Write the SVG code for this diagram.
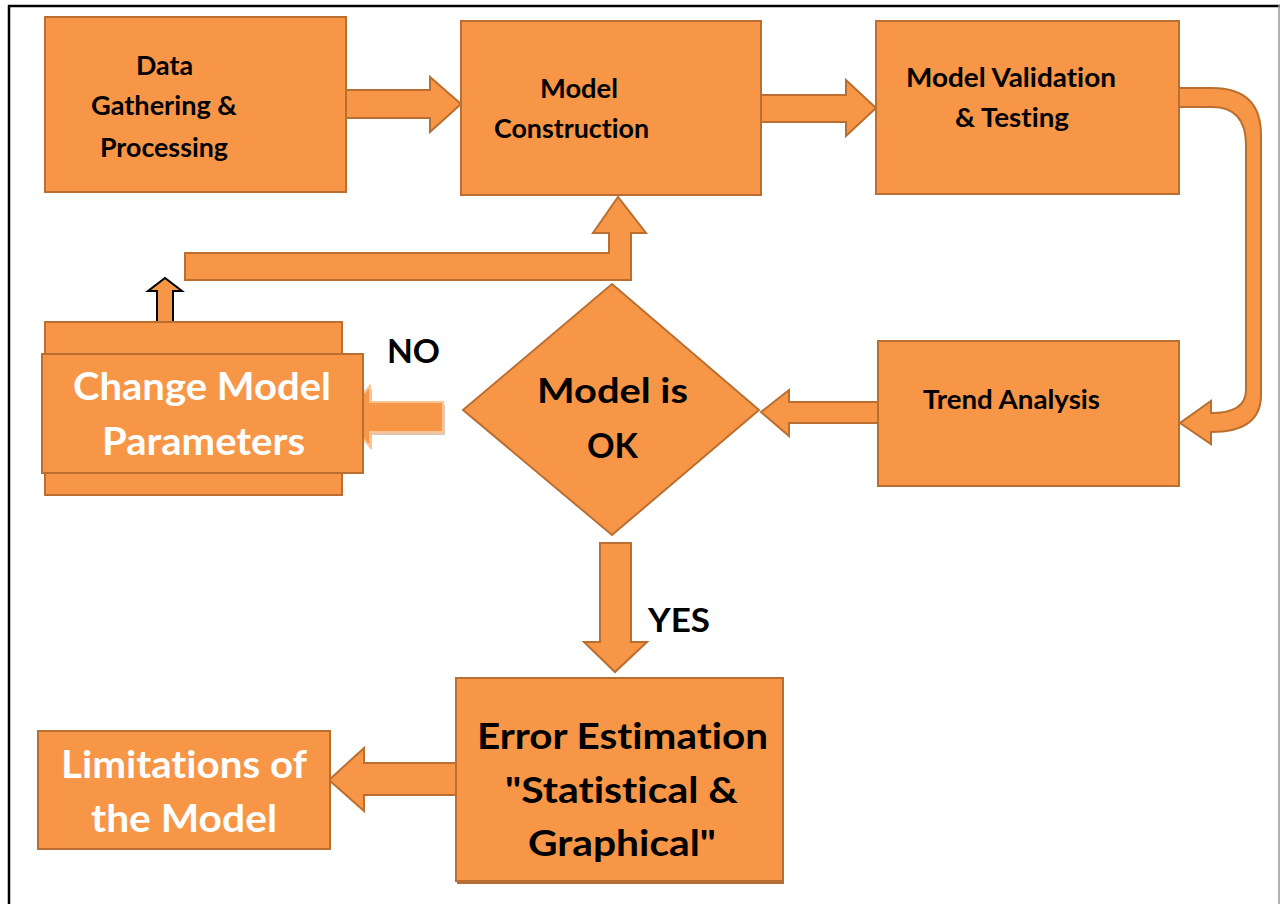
<svg xmlns="http://www.w3.org/2000/svg" width="1281" height="904" viewBox="0 0 1281 904">
<style>
.box{fill:#F79646;stroke:#BA6F30;stroke-width:2}
.arr{fill:#F79646;stroke:#BA6F30;stroke-width:2;stroke-linejoin:miter}
.t{font-family:Lato,"Liberation Sans",sans-serif;font-weight:700;fill:#000;font-variant-ligatures:none;font-feature-settings:"liga" 0}
.s{font-size:26px}
.w{fill:#fff}
</style>
<rect width="1281" height="904" fill="#fff"/>
<g id="frame">
<line x1="8" y1="6" x2="1280" y2="6" stroke="#000" stroke-width="2.5"/>
<line x1="9" y1="5" x2="9" y2="904" stroke="#000" stroke-width="2.5"/>
<line x1="1279" y1="5" x2="1279" y2="904" stroke="#999" stroke-width="1.5"/>
</g>
<g id="connectors">
<path class="arr" d="M346,90 L430,90 L430,77 L461,104 L430,132 L430,118 L346,118 Z"/>
<path class="arr" d="M761,95 L846,95 L846,80 L876,108 L846,136 L846,122 L761,122 Z"/>
<path class="arr" d="M1179,88 L1212,88 Q1261,88 1261,135 L1261,395 Q1261,432 1211,432 L1211,444 L1180,423 L1211,401 L1211,413 Q1246,413 1246,390 L1246,145 Q1246,107 1212,107 L1179,107 Z"/>
<path class="arr" d="M878,402 L789,402 L789,390 L761,412 L789,436 L789,423 L878,423 Z"/>
<path class="arr" d="M185,253 L609,253 L609,233 L593,233 L618,197 L646,233 L631,233 L631,280 L185,280 Z"/>
<path fill="#F79646" stroke="#000" stroke-width="2" d="M157,322 L157,291 L148,291 L165,278 L182,291 L173,291 L173,322 Z"/>
<path fill="#C8A07E" d="M445,405 L372,405 L372,389 L346,418 L372,450 L372,435 L445,435 Z" opacity="0.6"/>
<path fill="#F79646" stroke="#FBC593" stroke-width="2" d="M443,402 L370,402 L370,386 L344,415 L370,447 L370,432 L443,432 Z"/>
<path class="arr" d="M600,543 L631,543 L631,642 L647,642 L615,672 L584,642 L600,642 Z"/>
<path class="arr" d="M457,763 L364,763 L364,748 L329,780 L364,811 L364,795 L457,795 Z"/>
</g>
<g id="data-gathering">
<rect class="box" x="45" y="17" width="301" height="175"/>
<text class="t s" x="136" y="75" textLength="57" lengthAdjust="spacingAndGlyphs">Data</text>
<text class="t s" x="91" y="115" textLength="146" lengthAdjust="spacingAndGlyphs">Gathering &amp;</text>
<text class="t s" x="100" y="157" textLength="128" lengthAdjust="spacingAndGlyphs">Processing</text>
</g>
<g id="model-construction">
<rect class="box" x="461" y="21" width="300" height="174"/>
<text class="t s" x="540" y="98" textLength="78" lengthAdjust="spacingAndGlyphs">Model</text>
<text class="t s" x="494" y="138" textLength="155" lengthAdjust="spacingAndGlyphs">Construction</text>
</g>
<g id="model-validation">
<rect class="box" x="876" y="21" width="303" height="173"/>
<text class="t s" x="906" y="87" textLength="210" lengthAdjust="spacingAndGlyphs">Model Validation</text>
<text class="t s" x="955" y="127" textLength="114" lengthAdjust="spacingAndGlyphs">&amp; Testing</text>
</g>
<g id="trend-analysis">
<rect class="box" x="878" y="341" width="301" height="145"/>
<text class="t s" x="923" y="409" textLength="177" lengthAdjust="spacingAndGlyphs">Trend Analysis</text>
</g>
<g id="decision">
<polygon class="box" points="612,284 759,410 612,535 463,410"/>
<text class="t" x="537" y="403" font-size="35" textLength="151" lengthAdjust="spacingAndGlyphs">Model is</text>
<text class="t" x="587" y="458" font-size="35" textLength="51" lengthAdjust="spacingAndGlyphs">OK</text>
</g>
<g id="label-no">
<text class="t" x="387" y="363" font-size="33" textLength="53" lengthAdjust="spacingAndGlyphs">NO</text>
</g>
<g id="change-params">
<rect class="box" x="45" y="322" width="297" height="173"/>
<rect class="box" x="42" y="354" width="321" height="119"/>
<text class="t w" x="73" y="400" font-size="38" textLength="258" lengthAdjust="spacingAndGlyphs">Change Model</text>
<text class="t w" x="102" y="455" font-size="38" textLength="203" lengthAdjust="spacingAndGlyphs">Parameters</text>
</g>
<g id="label-yes">
<text class="t" x="648" y="632" font-size="33" textLength="62" lengthAdjust="spacingAndGlyphs">YES</text>
</g>
<g id="error-estimation">
<rect x="457" y="681" width="327" height="203" fill="#B66D31"/>
<rect class="box" x="456" y="678" width="327" height="203"/>
<text class="t" x="477" y="749" font-size="37" textLength="291" lengthAdjust="spacingAndGlyphs">Error Estimation</text>
<text class="t" x="505" y="803" font-size="37" textLength="233" lengthAdjust="spacingAndGlyphs">"Statistical &amp;</text>
<text class="t" x="528" y="856" font-size="37" textLength="188" lengthAdjust="spacingAndGlyphs">Graphical"</text>
</g>
<g id="limitations">
<rect class="box" x="38" y="731" width="292" height="118"/>
<text class="t w" x="61" y="778" font-size="38" textLength="246" lengthAdjust="spacingAndGlyphs">Limitations of</text>
<text class="t w" x="91" y="832" font-size="38" textLength="186" lengthAdjust="spacingAndGlyphs">the Model</text>
</g>
</svg>
